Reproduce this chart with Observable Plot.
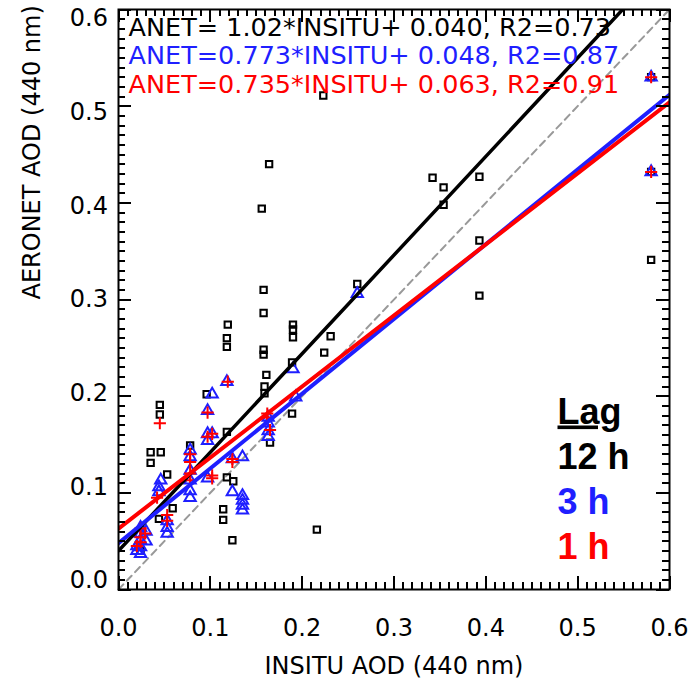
<!DOCTYPE html>
<html><head><meta charset="utf-8">
<script src="https://cdn.jsdelivr.net/npm/d3@7"></script>
<script src="https://cdn.jsdelivr.net/npm/@observablehq/plot@0.6"></script>
<style>body{margin:0;background:#fff} svg{display:block}</style>
</head><body><div id="chart"></div>
<script>
// ---- data ----
const lag12X = [0.223,0.164,0.156,0.158,0.158,0.119,0.118,0.118,0.190,0.190,0.190,0.231,0.224,0.158,0.158,0.161,0.159,0.159,0.189,0.189,0.216,0.260,0.342,0.354,0.354,0.393,0.393,0.393,0.580,0.045,0.045,0.035,0.046,0.035,0.053,0.078,0.059,0.044,0.096,0.118,0.165,0.118,0.125,0.114,0.114,0.124,0.024,0.580,0.580];
const lag12Y = [0.511,0.440,0.394,0.310,0.286,0.274,0.260,0.251,0.274,0.269,0.261,0.262,0.245,0.248,0.243,0.222,0.210,0.203,0.235,0.182,0.062,0.316,0.426,0.416,0.398,0.427,0.361,0.304,0.341,0.191,0.181,0.142,0.142,0.131,0.119,0.149,0.084,0.073,0.202,0.163,0.152,0.116,0.112,0.083,0.072,0.051,0.040,0.530,0.432];

const lag3X = [0.020,0.020,0.024,0.024,0.024,0.024,0.024,0.030,0.030,0.046,0.044,0.044,0.053,0.053,0.053,0.078,0.078,0.078,0.078,0.078,0.078,0.097,0.097,0.097,0.097,0.102,0.102,0.118,0.124,0.124,0.135,0.135,0.135,0.135,0.135,0.163,0.163,0.163,0.163,0.190,0.193,0.260,0.580,0.580];
const lag3Y = [0.045,0.040,0.064,0.058,0.051,0.044,0.037,0.060,0.050,0.113,0.106,0.101,0.071,0.064,0.058,0.144,0.137,0.123,0.113,0.102,0.095,0.185,0.161,0.154,0.115,0.202,0.161,0.215,0.135,0.101,0.137,0.097,0.092,0.087,0.082,0.178,0.172,0.164,0.158,0.228,0.199,0.306,0.530,0.432];

const lag1X = [0.024,0.024,0.024,0.029,0.020,0.045,0.042,0.053,0.053,0.078,0.078,0.078,0.078,0.097,0.097,0.102,0.102,0.102,0.119,0.124,0.124,0.162,0.162,0.165,0.580,0.580];
const lag1Y = [0.063,0.054,0.049,0.058,0.045,0.172,0.095,0.077,0.071,0.140,0.132,0.120,0.113,0.183,0.158,0.161,0.118,0.115,0.215,0.135,0.132,0.182,0.178,0.165,0.530,0.432];

const lagNames = ["12 h", "3 h", "1 h"];
const fitSlope = [1.02, 0.773, 0.735];
const fitIntercept = [0.040, 0.048, 0.063];
const eqLabels = [
  "ANET= 1.02*INSITU+ 0.040, R2=0.73",
  "ANET=0.773*INSITU+ 0.048, R2=0.87",
  "ANET=0.735*INSITU+ 0.063, R2=0.91"
];
const tickValues = [0, 0.1, 0.2, 0.3, 0.4, 0.5, 0.6];
const tickLabels = ["0.0", "0.1", "0.2", "0.3", "0.4", "0.5", "0.6"];
const xTitle = "INSITU AOD (440 nm)";
const yTitle = "AERONET AOD (440 nm)";
const legendTitle = "Lag";

// ---- styling ----
const colors = ["#000000", "#1f1fff", "#ff0000"];
const W = 697, H = 681;
const mL = 118, mR = 28, mT = 9, mB = 92;
const iw = W - mL - mR, ih = H - mT - mB;
const axisFont = "DejaVu Sans";
const majorLen = 13, minorLen = 7;

const pts12 = lag12X.map((x, i) => ({x, y: lag12Y[i]}));
const pts3 = lag3X.map((x, i) => ({x, y: lag3Y[i]}));
const pts1 = lag1X.map((x, i) => ({x, y: lag1Y[i]}));
const domain = [tickValues[0], tickValues[tickValues.length - 1]];
const span = domain[1] - domain[0];
const fitLines = lagNames.map((name, k) => domain.map(x => ({x, y: fitSlope[k] * x + fitIntercept[k], name})));
const oneToOne = domain.map(v => ({x: v, y: v}));
const minor = d3.range(0, 61).map(i => i / 100).filter(v => Math.round(v * 100) % 10 !== 0);
const labelOf = v => tickLabels[tickValues.findIndex(t => Math.abs(t - v) < 1e-9)];
// tick lengths converted from pixels to data units
const lenY = px => px / ih * span, lenX = px => px / iw * span;

function tickSet(vals, px) {
  const o = {stroke: "black", strokeWidth: 2, shapeRendering: "crispEdges"};
  return [
    Plot.ruleX(vals, {x: d => d, y1: domain[0], y2: domain[0] + lenY(px), ...o}),
    Plot.ruleX(vals, {x: d => d, y1: domain[1], y2: domain[1] - lenY(px), ...o}),
    Plot.ruleY(vals, {y: d => d, x1: domain[0], x2: domain[0] + lenX(px), ...o}),
    Plot.ruleY(vals, {y: d => d, x1: domain[1], x2: domain[1] - lenX(px), ...o})
  ];
}

const marks = [
  // 1:1 line
  Plot.line(oneToOne, {x: "x", y: "y", stroke: "#999999", strokeWidth: 2, strokeDasharray: "7,5"}),
  // points
  Plot.dot(pts12, {x: "x", y: "y", symbol: "square", r: 3.6, stroke: colors[0], fill: "none", strokeWidth: 2}),
  Plot.dot(pts3, {x: "x", y: "y", symbol: "triangle", r: 4.2, stroke: colors[1], fill: "none", strokeWidth: 2}),
  Plot.dot(pts1, {x: "x", y: "y", symbol: "plus", r: 4, stroke: colors[2], fill: "none", strokeWidth: 2}),
  // regression lines
  ...fitLines.map((d, k) => Plot.line(d, {x: "x", y: "y", stroke: colors[k], strokeWidth: k === 0 ? 3.5 : 4, clip: true})),
  // ticks (inward, all four sides)
  ...tickSet(minor, minorLen),
  ...tickSet(tickValues, majorLen),
  Plot.frame({stroke: "black", strokeWidth: 2}),
  // tick labels
  Plot.text(tickValues, {x: d => d, frameAnchor: "bottom", text: labelOf, dy: 29, lineAnchor: "top", fontSize: 24, fontFamily: axisFont, fill: "black"}),
  ...tickValues.map(v => Plot.text([v], {y: d => d, frameAnchor: "left", text: labelOf, dx: -10.5, dy: (v - 0.3) * 30, textAnchor: "end", lineAnchor: "middle", fontSize: 24, fontFamily: axisFont, fill: "black"})),
  // axis titles
  Plot.text([xTitle], {frameAnchor: "bottom", text: d => d, dy: 84, lineAnchor: "bottom", fontSize: 24, fontFamily: axisFont, fill: "black"}),
  Plot.text([yTitle], {frameAnchor: "left", text: d => d, dx: -86, rotate: -90, lineAnchor: "middle", fontSize: 24, fontFamily: axisFont, fill: "black"}),
  // equations
  ...eqLabels.map((t, k) => Plot.text([t], {frameAnchor: "top-left", text: d => d, dx: 10, dy: 26 + k * 28.5, textAnchor: "start", lineAnchor: "bottom", fontSize: 25.5, fontFamily: axisFont, fill: colors[k]})),
  // legend
  Plot.text([legendTitle], {frameAnchor: "top-left", text: d => d, dx: 439, dy: 414, textAnchor: "start", lineAnchor: "bottom", fontSize: 36, fontWeight: "bold", fontFamily: "Liberation Sans", fill: "black"}),
  ...lagNames.map((t, k) => Plot.text([t], {frameAnchor: "top-left", text: d => d, dx: 439, dy: 459 + k * 45, textAnchor: "start", lineAnchor: "bottom", fontSize: 36, fontWeight: "bold", fontFamily: "Liberation Sans", fill: colors[k]}))
];

const chart = Plot.plot({
  width: W, height: H,
  marginLeft: mL, marginRight: mR, marginTop: mT, marginBottom: mB,
  x: {domain, axis: null},
  y: {domain, axis: null},
  style: {fontFamily: axisFont, background: "white", color: "black"},
  marks
});
// underline legend title
d3.select(chart).selectAll("text").filter(function() { return this.textContent === legendTitle; })
  .style("text-decoration", "underline");
document.getElementById("chart").appendChild(chart);
</script>
</body></html>
